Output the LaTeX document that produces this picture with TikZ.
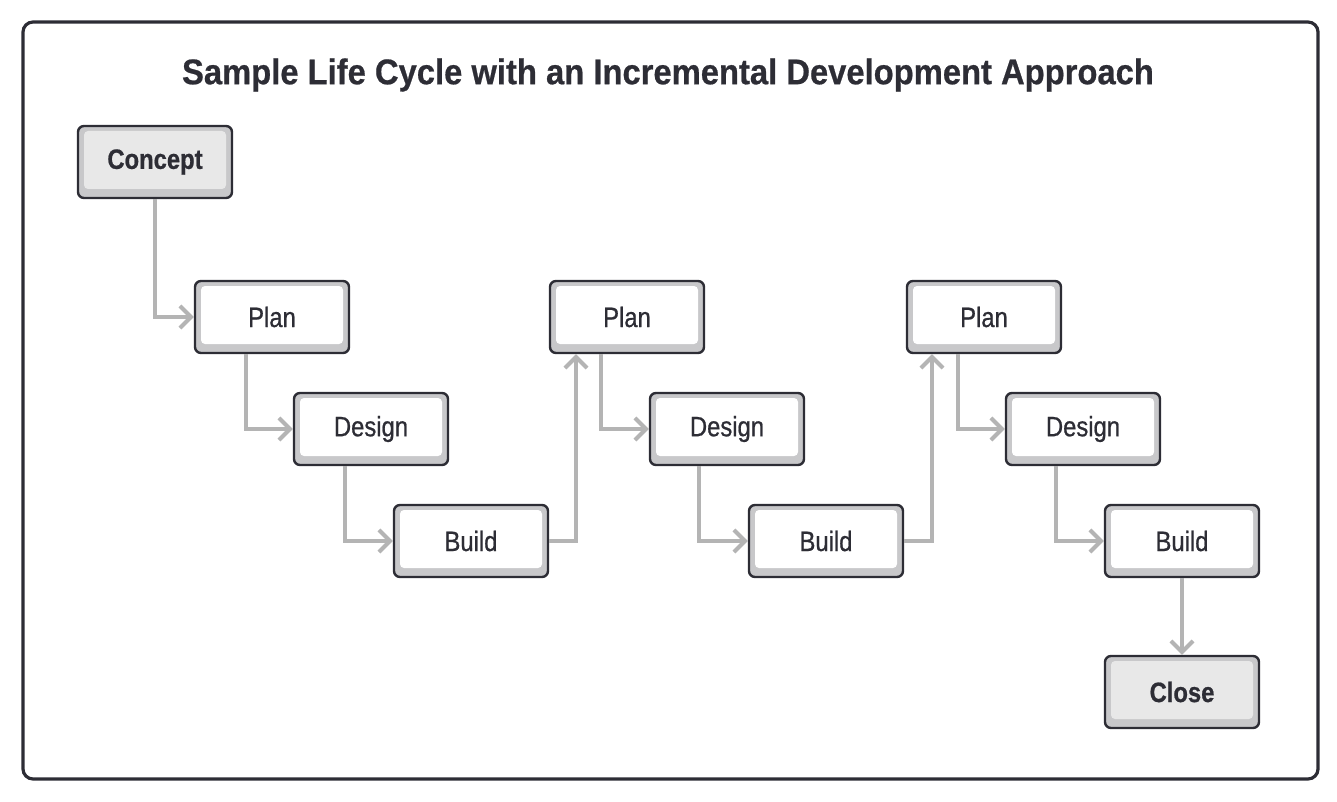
\documentclass[tikz,border=0pt]{standalone}
\usepackage{fontspec}
\setmainfont{Liberation Sans}
\newfontfamily\titlefont[FakeStretch=0.92,FakeBold=0.6]{Liberation Sans}
\newfontfamily\boxfont[FakeStretch=0.85,FakeBold=0.7]{Liberation Sans}
\usetikzlibrary{arrows.meta}
\definecolor{inkgray}{HTML}{2D2D35}
\definecolor{rimgray}{HTML}{C8C8CA}
\definecolor{softgray}{HTML}{E8E8E8}
\definecolor{linkgray}{HTML}{B4B4B4}

\begin{document}
\begin{tikzpicture}[x=0.5pt,y=-0.5pt,
  box/.style={rectangle, rounded corners=3pt, draw=inkgray, line width=1.2pt,
    fill=rimgray, minimum width=77pt, minimum height=36pt, inner sep=0pt,
    font=\boxfont\fontsize{14}{16}\selectfont, text=inkgray,
    path picture={\fill[#1, rounded corners=2pt]
      ([shift={(3pt,4.5pt)}]path picture bounding box.south west) rectangle
      ([shift={(-3pt,-2.5pt)}]path picture bounding box.north east);}},
  link/.style={draw=linkgray, line width=2pt, -{Straight Barb[length=5.5pt,width=11pt]}}]
\useasboundingbox (0,0) rectangle (1337,802);
\draw[inkgray, line width=1.6pt, rounded corners=5pt] (23,22) rectangle (1318,779); % outer frame
\node[font=\titlefont\bfseries\fontsize{17.8}{20}\selectfont, text=inkgray] (title) at (668,75)
  {Sample Life Cycle with an Incremental Development Approach};
\node[box=softgray, font=\boxfont\bfseries\fontsize{14}{16}\selectfont] (concept) at (155,162) {Concept};
\node[box=white] (plan1) at (272,317) {Plan};
\node[box=white] (design1) at (371,429) {Design};
\node[box=white] (build1) at (471,541) {Build};
\node[box=white] (plan2) at (627,317) {Plan};
\node[box=white] (design2) at (727,429) {Design};
\node[box=white] (build2) at (826,541) {Build};
\node[box=white] (plan3) at (984,317) {Plan};
\node[box=white] (design3) at (1083,429) {Design};
\node[box=white] (build3) at (1182,541) {Build};
\node[box=softgray, font=\boxfont\bfseries\fontsize{14}{16}\selectfont] (close) at (1182,692) {Close};
\draw[link] (concept.south) |- (plan1.west); % first increment
\draw[link] ([xshift=-13pt]plan1.south) |- (design1.west);
\draw[link] ([xshift=-13pt]design1.south) |- (build1.west);
\draw[link] (build1.east) -| ([xshift=-25.5pt]plan2.south); % back up to next plan
\draw[link] ([xshift=-13pt]plan2.south) |- (design2.west);
\draw[link] ([xshift=-14pt]design2.south) |- (build2.west);
\draw[link] (build2.east) -| ([xshift=-26pt]plan3.south);
\draw[link] ([xshift=-13pt]plan3.south) |- (design3.west);
\draw[link] ([xshift=-13.5pt]design3.south) |- (build3.west);
\draw[link] (build3) -- (close);
\end{tikzpicture}
\end{document}
